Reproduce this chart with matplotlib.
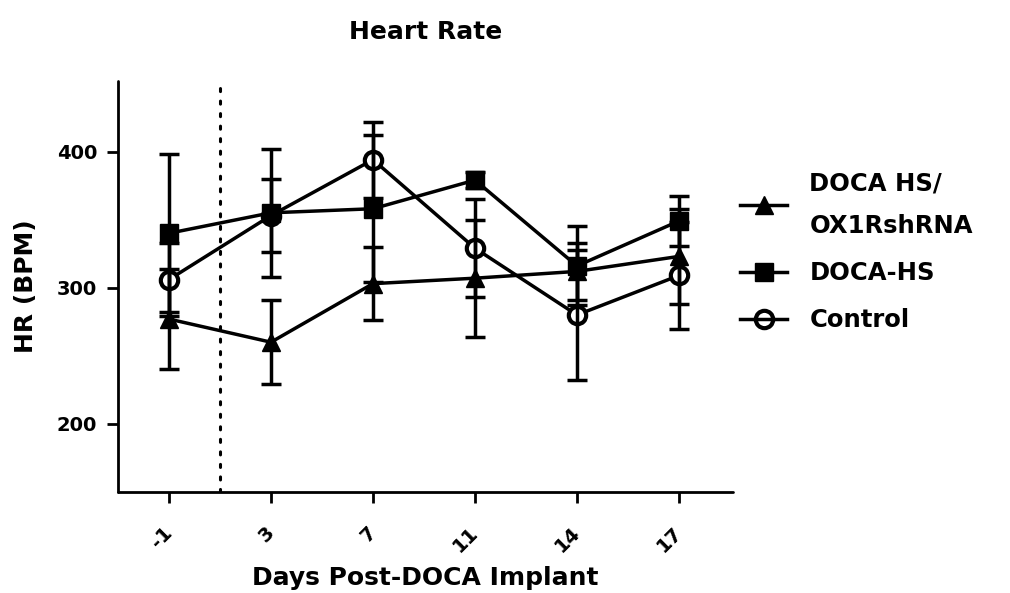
import matplotlib
matplotlib.use('Agg')
import matplotlib.pyplot as plt
from matplotlib.lines import Line2D

#---- data ----#
days = ['-1', '3', '7', '11', '14', '17']

ox_mean = [277, 260, 303, 307, 312, 323]     # DOCA HS/OX1RshRNA
ox_sem = [37, 31, 27, 43, 21, 35]
doca_mean = [340, 355, 358, 379, 316, 349]   # DOCA-HS
doca_sem = [58, 47, 54, 6, 29, 18]
ctrl_mean = [306, 353, 394, 329, 280, 309]   # Control
ctrl_sem = [27, 27, 28, 36, 48, 39]

labels = ['DOCA HS/\nOX1RshRNA', 'DOCA-HS', 'Control']

#---- style ----#
plt.rcParams['font.family'] = ['DejaVu Sans']
plt.rcParams['font.weight'] = 'bold'
lw = 2.5

fig = plt.figure(figsize=(10.1, 5.93), dpi=100)
ax = fig.add_axes([0.1168, 0.1703, 0.609, 0.6936])

x = list(range(len(days)))

# draw order: control under square under triangle, error bars on top
ax.plot(x, ctrl_mean, color='k', lw=lw, marker='o', ms=12.5, mew=3,
        mfc='white', mec='k', zorder=2)
ax.plot(x, doca_mean, color='k', lw=lw, marker='s', ms=12.5, zorder=3)
ax.plot(x, ox_mean, color='k', lw=lw, marker='^', ms=13, zorder=4)

for m, s in [(ctrl_mean, ctrl_sem), (doca_mean, doca_sem), (ox_mean, ox_sem)]:
    ax.errorbar(x, m, yerr=s, fmt='none', ecolor='k', elinewidth=lw,
                capsize=7, capthick=lw, zorder=5)

# implant marker between day -1 and day 3
ax.axvline(0.5, color='k', lw=2.2, linestyle=(0, (1, 3.1)),
           dash_capstyle='round', zorder=1)

#---- axes ----#
ax.set_xlim(-0.5, 5.53)
ax.set_ylim(150, 452)
ax.set_yticks([200, 300, 400])
ax.set_xticks(x)
ax.set_xticklabels(days)

for side in ['top', 'right']:
    ax.spines[side].set_visible(False)
for side in ['left', 'bottom']:
    ax.spines[side].set_linewidth(2.0)
    ax.spines[side].set_capstyle('round')

ax.tick_params(axis='both', direction='out', length=8, width=2.0,
               labelsize=14)
ax.tick_params(axis='y', pad=7)
ax.tick_params(axis='x', pad=19)
plt.setp(ax.get_xticklabels(), rotation=45, ha='right', va='center',
         rotation_mode='anchor')

ax.set_title('Heart Rate', fontsize=18, fontweight='bold', pad=30)
ax.set_xlabel('Days Post-DOCA Implant', fontsize=18, fontweight='bold')
ax.set_ylabel('HR (BPM)', fontsize=18, fontweight='bold')
ax.xaxis.set_label_coords(0.5, -0.18)
ax.yaxis.set_label_coords(-0.13, 0.5)

#---- legend ----#
handles = [
    Line2D([], [], color='k', lw=lw, marker='^', ms=13),
    Line2D([], [], color='k', lw=lw, marker='s', ms=12.5),
    Line2D([], [], color='k', lw=lw, marker='o', ms=12.5, mew=3, mfc='none'),
]
leg = fig.legend(handles, labels, loc='upper left',
                 bbox_to_anchor=(740 / 1010, 1 - 171 / 593),
                 frameon=False, fontsize=17.5, handlelength=1.95,
                 handletextpad=0.9, labelspacing=0.95, borderpad=0,
                 borderaxespad=0)
leg.get_texts()[0].set_linespacing(2.0)

fig.savefig('out.png', dpi=100)
